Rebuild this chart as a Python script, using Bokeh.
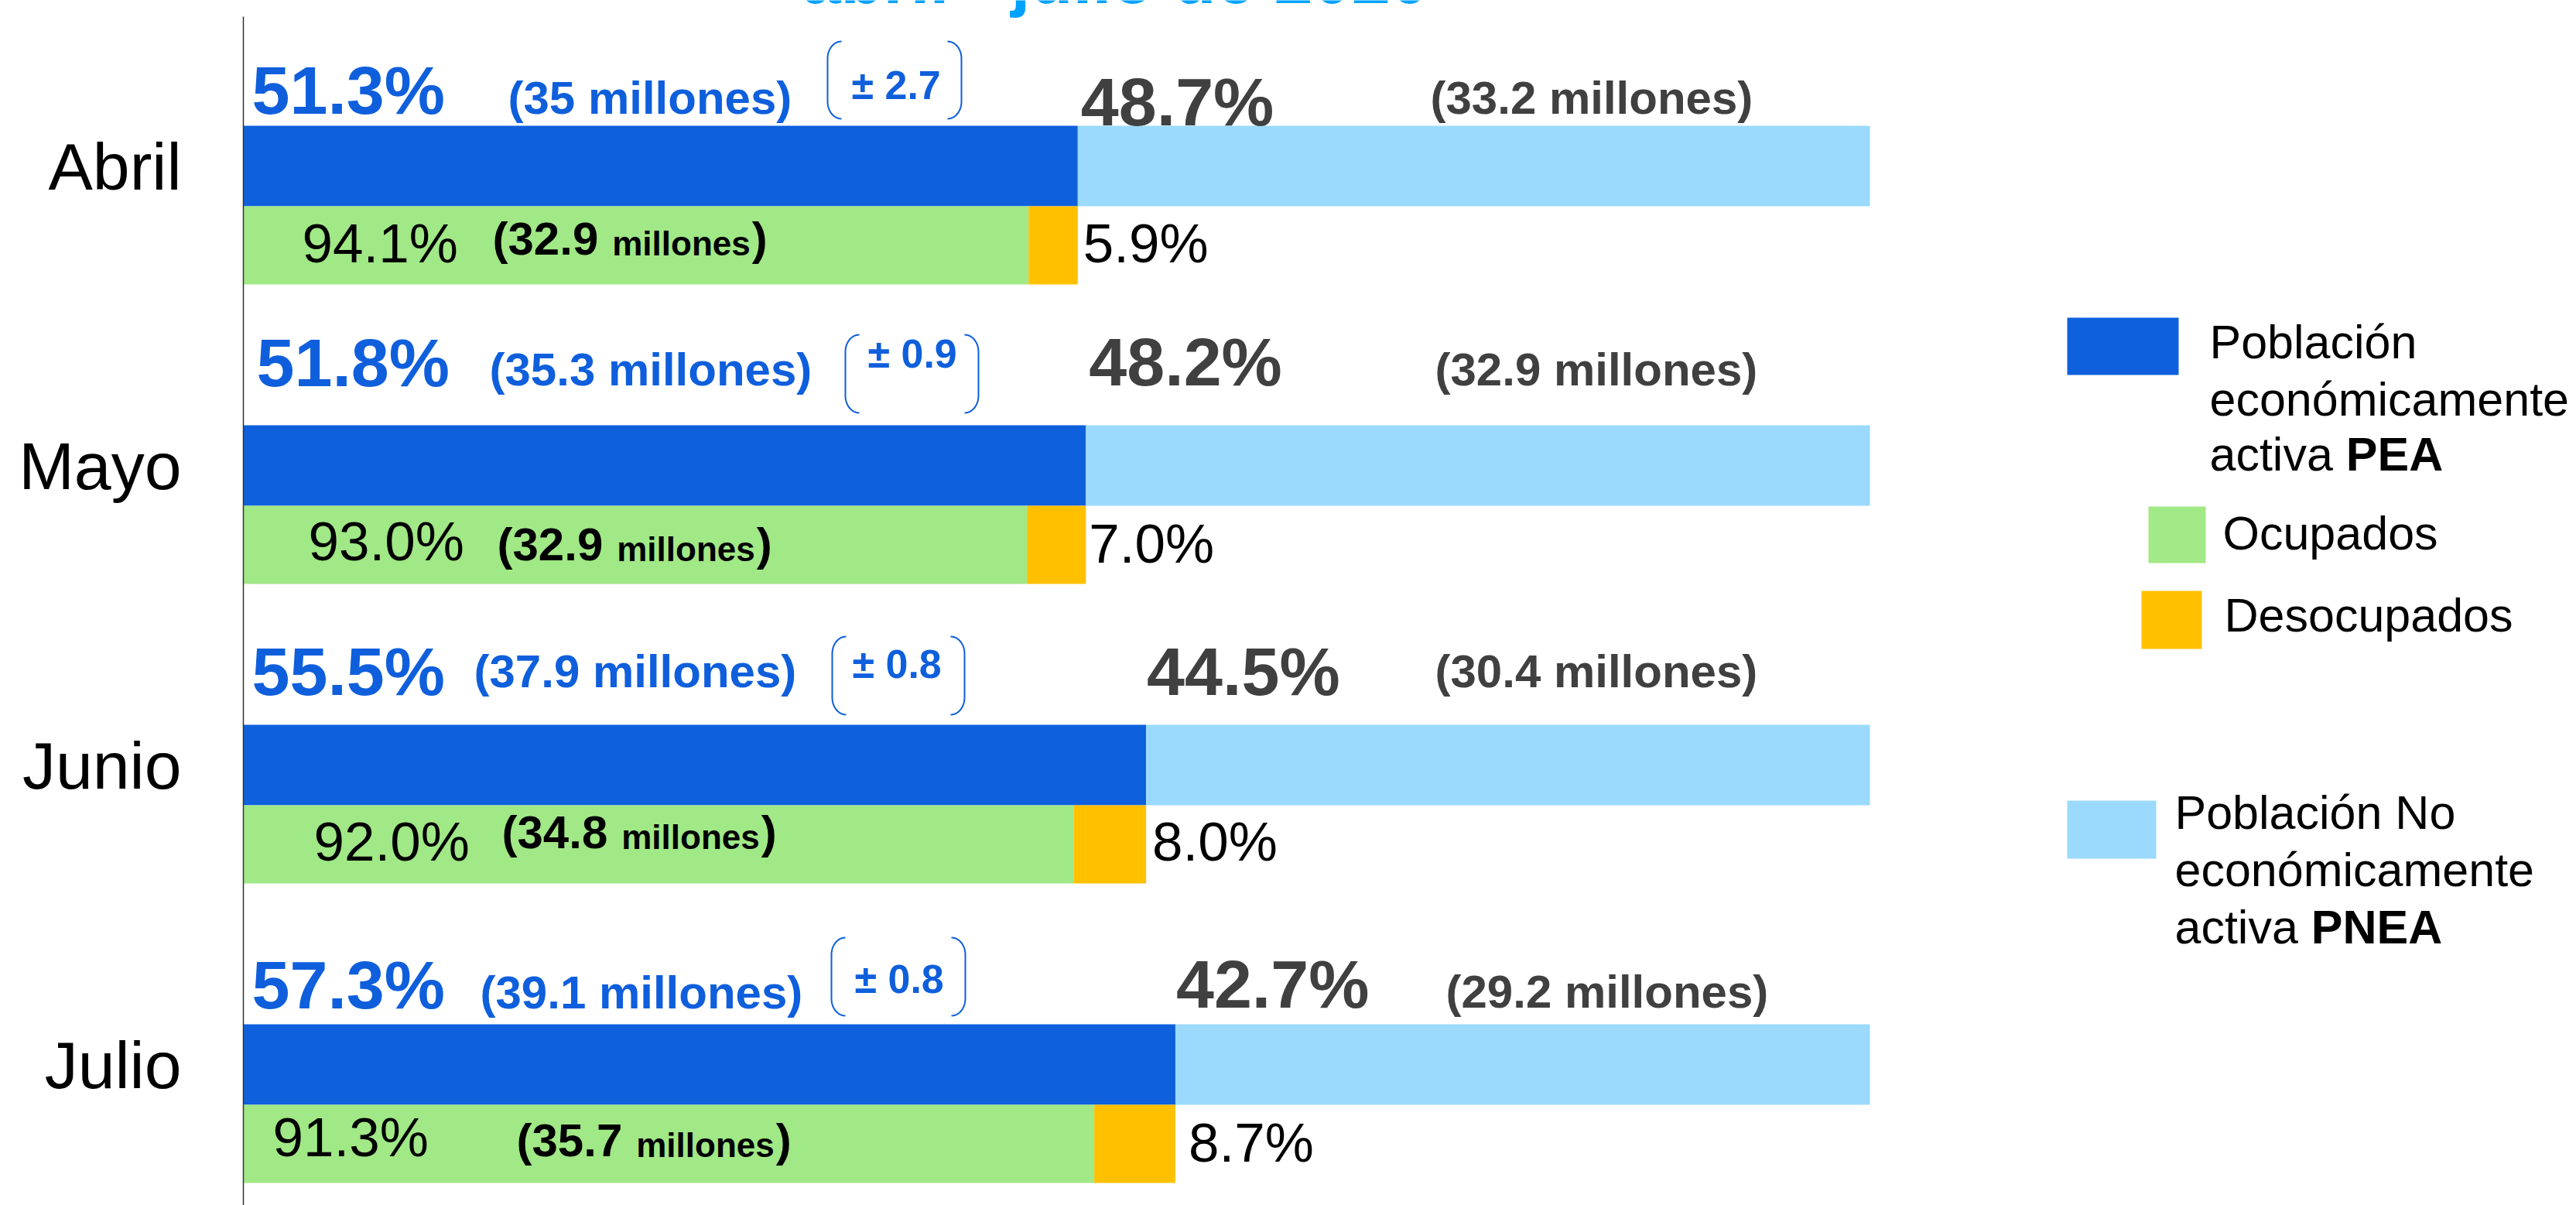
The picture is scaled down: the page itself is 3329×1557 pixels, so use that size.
import math
from bokeh.plotting import figure
from bokeh.models import Range1d
from bokeh.core.properties import value
from bokeh.embed import file_html
from bokeh.resources import INLINE

# ---------------- data ----------------
months = ["Abril", "Mayo", "Junio", "Julio"]
pea_pct = [51.3, 51.8, 55.5, 57.3]
pnea_pct = [48.7, 48.2, 44.5, 42.7]
pea_mill = [35, 35.3, 37.9, 39.1]
pnea_mill = [33.2, 32.9, 30.4, 29.2]
pea_moe = [2.7, 0.9, 0.8, 0.8]
ocup_pct = [94.1, 93.0, 92.0, 91.3]
desoc_pct = [5.9, 7.0, 8.0, 8.7]
ocup_mill = [32.9, 32.9, 34.8, 35.7]
title_text = "abril - julio de 2020"

# ---------------- colours ----------------
C_PEA = "#0e60dd"
C_PNEA = "#9bdafc"
C_OCUP = "#a1e886"
C_DESOC = "#ffc000"
C_BLUE_TXT = "#0f5fdc"
C_GRAY_TXT = "#404040"
C_TITLE = "#00a2ff"
FONT = value("Liberation Sans")

# ---------------- layout helpers ----------------
W, H = 3329, 1557
X0_PX, PX_PER_PCT = 314, 21.02       # pixel of 0 %, pixels per %
ROW0_PX, ROW_STEP = 214, 387         # centre of first PEA bar, step between months
BLOCK_TOP0 = 162
BASE_SHIFT = 0.36                    # em correction for the alphabetic baseline


def px2x(px):
    return (px - X0_PX) / PX_PER_PCT


def px2y(py):
    return (py - ROW0_PX) / ROW_STEP


def rowy(i, rel):
    return px2y(BLOCK_TOP0 + ROW_STEP * i + rel)


REG = {' ': 278, '(': 333, ')': 333, '%': 889, '.': 278, '-': 333, 'a': 556, 'c': 500,
       't': 278, 'i': 222, 'v': 500, 'm': 833, 'l': 222, 'o': 556, 'n': 556, 'e': 556,
       's': 500, 'u': 556, 'p': 556, 'd': 556, 'b': 556, 'ó': 556, 'P': 667, 'O': 778,
       'D': 722, 'N': 722}
BOLD = {' ': 278, '(': 333, ')': 333, '%': 889, '.': 278, '±': 549, 'm': 889, 'i': 278,
        'l': 278, 'o': 611, 'n': 611, 'e': 556, 's': 556, 'P': 667, 'E': 667, 'A': 722,
        'N': 722}


def tw(s, size, bold=False):
    tab = BOLD if bold else REG
    return sum(tab.get(ch, 556) for ch in s) * size / 1000.0


def fmt(v):
    return f"{v:g}"


p = figure(width=W, height=H,
           x_range=Range1d(px2x(0), px2x(W)),
           y_range=Range1d(px2y(H), px2y(0)),
           output_backend="svg", toolbar_location=None, min_border=0,
           x_axis_location=None, y_axis_location=None)
p.grid.visible = False
p.outline_line_color = None
p.background_fill_color = "white"
p.border_fill_color = "white"


def txt(x, y, text, size, color="black", bold=False, align="left", dy=0, x_offset=0):
    p.text(x=x, y=y, text=text, x_offset=x_offset, y_offset=dy - BASE_SHIFT * size,
           text_font=FONT, text_font_style="bold" if bold else "normal",
           text_font_size=f"{size}px", text_color=color, text_align=align,
           text_baseline="alphabetic")


idx = list(range(len(months)))
BAR_H = 104 / ROW_STEP
SUB_H = 101 / ROW_STEP
SUB_OFF = 102.5 / ROW_STEP

# ---------------- bars ----------------
p.hbar(y=idx, left=0, right=pea_pct, height=BAR_H, fill_color=C_PEA, line_color=None)
p.hbar(y=idx, left=pea_pct, right=[a + b for a, b in zip(pea_pct, pnea_pct)],
       height=BAR_H, fill_color=C_PNEA, line_color=None)
ocup_abs = [pe * oc / 100.0 for pe, oc in zip(pea_pct, ocup_pct)]
sub_y = [i + SUB_OFF for i in idx]
p.hbar(y=sub_y, left=0, right=ocup_abs, height=SUB_H, fill_color=C_OCUP, line_color=None)
p.hbar(y=sub_y, left=ocup_abs, right=pea_pct, height=SUB_H, fill_color=C_DESOC, line_color=None)

# axis line (starts just below the title, runs to the bottom)
p.segment(x0=[0], y0=[px2y(21)], x1=[0], y1=[px2y(H)], line_color="#333333", line_width=1.5)

# ---------------- month labels ----------------
txt([px2x(234)] * 4, idx, months, 86, align="right", dy=31)

# ---------------- top row annotations ----------------
top_pct_x_px = [325, 331, 325, 325]
top_pct_rel = [-14, -49, -37, -19]
top_mill_x_px = [656, 632, 612, 620]
top_mill_rel = [-14, -50, -47, -19]
pm_x_px = [1100, 1121, 1101, 1104]
pm_rel = [-34, -74, -60, -40]
brackets_px = [(1069, 1242, -109, -9), (1092, 1264, -117, -16),
               (1075, 1246, -114, -13), (1074, 1247, -112, -11)]
pnea_pct_dx = [4, 4, 1, 1]
pnea_pct_rel = [1, -50, -37, -20]
pnea_mill_x_px = [1848, 1854, 1854, 1868]
pnea_mill_rel = [-14, -50, -47, -20]

txt([px2x(v) for v in top_pct_x_px], [rowy(i, r) for i, r in zip(idx, top_pct_rel)],
    [f"{v:.1f}%" for v in pea_pct], 88, C_BLUE_TXT, bold=True)
txt([px2x(v) for v in top_mill_x_px], [rowy(i, r) for i, r in zip(idx, top_mill_rel)],
    [f"({fmt(v)} millones)" for v in pea_mill], 60, C_BLUE_TXT, bold=True)
txt([px2x(v) for v in pm_x_px], [rowy(i, r) for i, r in zip(idx, pm_rel)],
    [f"± {v:.1f}" for v in pea_moe], 52, C_BLUE_TXT, bold=True)

# brackets around the margin of error
xs, ys = [], []
RX, RY = 18, 22
for i, (bx0, bx1, bt, bb) in enumerate(brackets_px):
    t = BLOCK_TOP0 + ROW_STEP * i + bt
    b = BLOCK_TOP0 + ROW_STEP * i + bb
    for side in (1, -1):
        xe = bx0 if side == 1 else bx1
        cx = xe + side * RX
        pts = []
        for k in range(13):
            th = math.radians(90 + 90 * k / 12)
            pts.append((cx + side * RX * math.cos(th), t + RY - RY * math.sin(th)))
        for k in range(13):
            th = math.radians(180 + 90 * k / 12)
            pts.append((cx + side * RX * math.cos(th), b - RY - RY * math.sin(th)))
        xs.append([px2x(q[0]) for q in pts])
        ys.append([px2y(q[1]) for q in pts])
p.multi_line(xs=xs, ys=ys, line_color=C_BLUE_TXT, line_width=2)

txt(pea_pct, [rowy(i, r) for i, r in zip(idx, pnea_pct_rel)],
    [f"{v:.1f}%" for v in pnea_pct], 88, C_GRAY_TXT, bold=True, x_offset=pnea_pct_dx)
txt([px2x(v) for v in pnea_mill_x_px], [rowy(i, r) for i, r in zip(idx, pnea_mill_rel)],
    [f"({fmt(v)} millones)" for v in pnea_mill], 60, C_GRAY_TXT, bold=True)

# ---------------- bottom row annotations ----------------
ocup_pct_x_px = [390, 398, 405, 352]
ocup_pct_rel = [178, 176, 177, 172]
ocup_mill_x_px = [636, 642, 648, 667]
ocup_mill_rel = [168, 176, 161, 172]
desoc_dx = [7, 4, 8, 17]
desoc_rel = [178, 179, 177, 179]

txt([px2x(v) for v in ocup_pct_x_px], [rowy(i, r) for i, r in zip(idx, ocup_pct_rel)],
    [f"{v:.1f}%" for v in ocup_pct], 71)

first = [f"({fmt(v)}" for v in ocup_mill]
x1 = [px2x(v) for v in ocup_mill_x_px]
x2 = [px2x(v + tw(f, 60, True) + 18) for v, f in zip(ocup_mill_x_px, first)]
x3 = [px2x(v + tw(f, 60, True) + 18 + tw("millones", 44, True) + 2)
      for v, f in zip(ocup_mill_x_px, first)]
ym = [rowy(i, r) for i, r in zip(idx, ocup_mill_rel)]
txt(x1, ym, first, 60, bold=True)
txt(x2, ym, ["millones"] * 4, 44, bold=True)
txt(x3, ym, [")"] * 4, 60, bold=True)

txt(pea_pct, [rowy(i, r) for i, r in zip(idx, desoc_rel)],
    [f"{v:.1f}%" for v in desoc_pct], 71, x_offset=desoc_dx)

# ---------------- title (cut at the top edge, as in the source) ----------------
txt([px2x(1036)], [px2y(5)], [title_text], 90, C_TITLE, bold=True)

# ---------------- legend ----------------
sw = [(2671, 2815, 410, 484, C_PEA), (2776, 2850, 654, 727, C_OCUP),
      (2767, 2845, 763, 838, C_DESOC), (2671, 2786, 1034, 1109, C_PNEA)]
p.quad(left=[px2x(s[0]) for s in sw], right=[px2x(s[1]) for s in sw],
       top=[px2y(s[2]) for s in sw], bottom=[px2y(s[3]) for s in sw],
       fill_color=[s[4] for s in sw], line_color=None)

leg_reg = [("Población", 2855, 463), ("económicamente", 2855, 537), ("activa ", 2855, 608),
           ("Ocupados", 2872, 710), ("Desocupados", 2874, 816),
           ("Población No", 2810, 1071), ("económicamente", 2810, 1145), ("activa ", 2810, 1219)]
txt([px2x(l[1]) for l in leg_reg], [px2y(l[2]) for l in leg_reg], [l[0] for l in leg_reg], 61)
leg_bold = [("PEA", 2855, 608), ("PNEA", 2810, 1219)]
txt([px2x(l[1] + tw("activa ", 61)) for l in leg_bold], [px2y(l[2]) for l in leg_bold],
    [l[0] for l in leg_bold], 61, bold=True)

open("out.html", "w").write(file_html(p, INLINE))
